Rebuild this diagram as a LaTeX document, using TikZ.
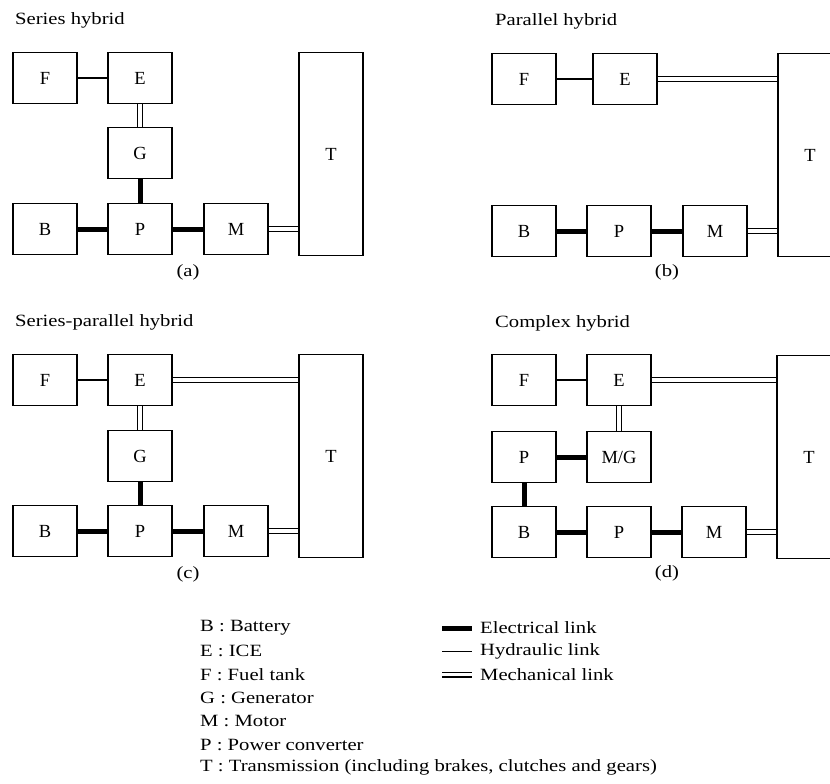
\documentclass[tikz,border=0pt]{standalone}
\usepackage{fontspec}
\setmainfont{Liberation Serif}[FakeStretch=1.2]
\newfontfamily\boxfont{Liberation Serif}
\tikzset{
  blk/.style={draw, line width=1.3pt, minimum width=64pt, minimum height=51pt,
    inner sep=0pt, font=\boxfont\fontsize{18.5}{20}\selectfont},
  tall/.style={blk, minimum height=203pt},
  elec/.style={line width=5pt},
  hydr/.style={line width=1.4pt},
  mech/.style={double, double distance=3.4pt, line width=1.2pt},
  ttl/.style={anchor=west, inner sep=0pt, font=\fontsize{17.2}{20}\selectfont},
  lbl/.style={inner sep=0pt, font=\fontsize{17.2}{20}\selectfont}
}
\begin{document}
\begin{tikzpicture}[x=1pt, y=-1pt]
    \useasboundingbox (0,0) rectangle (830,784);

    % (a) series hybrid
    \node[ttl] (ta) at (15,20) {Series hybrid};
    \node[blk] (Fa) at (45,78)  {F};
    \node[blk] (Ea) at (140,78) {E};
    \node[blk] (Ga) at (140,153) {G};
    \node[blk] (Ba) at (45,229) {B};
    \node[blk] (Pa) at (140,229) {P};
    \node[blk] (Ma) at (236,229) {M};
    \node[tall] (Ta) at (331,154) {T};
    \node[lbl] (la) at (188,272) {(a)};

    \draw[hydr] (Fa) -- (Ea);
    \draw[mech] (Ea) -- (Ga);
    \draw[elec] (Ga) -- (Pa);
    \draw[elec] (Ba) -- (Pa);
    \draw[elec] (Pa) -- (Ma);
    \draw[mech] (Ma) -- (Ma -| Ta.west);

    % (b) parallel hybrid
    \node[ttl] (tb) at (495,21) {Parallel hybrid};
    \node[blk] (Fb) at (524,79) {F};
    \node[blk] (Eb) at (625,79) {E};
    \node[blk] (Bb) at (524,231) {B};
    \node[blk] (Pb) at (619,231) {P};
    \node[blk] (Mb) at (715,231) {M};
    \node[tall] (Tb) at (810,155) {T};
    \node[lbl] (lb) at (667,272) {(b)};

    \draw[hydr] (Fb) -- (Eb);
    \draw[mech] (Eb) -- (Eb -| Tb.west);
    \draw[elec] (Bb) -- (Pb);
    \draw[elec] (Pb) -- (Mb);
    \draw[mech] (Mb) -- (Mb -| Tb.west);

    % (c) series-parallel hybrid
    \node[ttl] (tc) at (15,322) {Series-parallel hybrid};
    \node[blk] (Fc) at (45,380)  {F};
    \node[blk] (Ec) at (140,380) {E};
    \node[blk] (Gc) at (140,456) {G};
    \node[blk] (Bc) at (45,531) {B};
    \node[blk] (Pc) at (140,531) {P};
    \node[blk] (Mc) at (236,531) {M};
    \node[tall] (Tc) at (331,456) {T};
    \node[lbl] (lc) at (188,574) {(c)};

    \draw[hydr] (Fc) -- (Ec);
    \draw[mech] (Ec) -- (Ec -| Tc.west);
    \draw[mech] (Ec) -- (Gc);
    \draw[elec] (Gc) -- (Pc);
    \draw[elec] (Bc) -- (Pc);
    \draw[elec] (Pc) -- (Mc);
    \draw[mech] (Mc) -- (Mc -| Tc.west);

    % (d) complex hybrid
    \node[ttl] (td) at (495,323) {Complex hybrid};
    \node[blk] (Fd) at (524,380)  {F};
    \node[blk] (Ed) at (619,380)  {E};
    \node[blk] (Qd) at (524,457)  {P};
    \node[blk] (MGd) at (619,457) {M/G};
    \node[blk] (Bd) at (524,532)  {B};
    \node[blk] (Pd) at (619,532)  {P};
    \node[blk] (Md) at (714,532)  {M};
    \node[tall] (Td) at (809,457) {T};
    \node[lbl] (ld) at (667,573) {(d)};

    \draw[hydr] (Fd) -- (Ed);
    \draw[mech] (Ed) -- (Ed -| Td.west);
    \draw[mech] (Ed) -- (MGd);
    \draw[elec] (Qd) -- (MGd);
    \draw[elec] (Qd) -- (Bd);
    \draw[elec] (Bd) -- (Pd);
    \draw[elec] (Pd) -- (Md);
    \draw[mech] (Md) -- (Md -| Td.west);

    % legend
    \foreach \k/\txt [count=\i from 0] in {B/Battery, E/ICE, F/Fuel tank,
        G/Generator, M/Motor, P/Power converter,
        T/Transmission (including brakes{,} clutches and gears)}
      \node[ttl] (key\i) at (200,628+23.3*\i) {\k\ : \txt};

    \coordinate (e0) at (442,628);   \coordinate (e1) at (472,628);
    \coordinate (h0) at (442,651.3); \coordinate (h1) at (472,651.3);
    \coordinate (m0) at (442,674.6); \coordinate (m1) at (472,674.6);
    \draw[elec] (e0) -- (e1);
    \draw[hydr] (h0) -- (h1);
    \draw[mech] (m0) -- (m1);
    \node[ttl] (le) at (480,628)   {Electrical link};
    \node[ttl] (lh) at (480,651.3) {Hydraulic link};
    \node[ttl] (lm) at (480,674.6) {Mechanical link};
\end{tikzpicture}
\end{document}
